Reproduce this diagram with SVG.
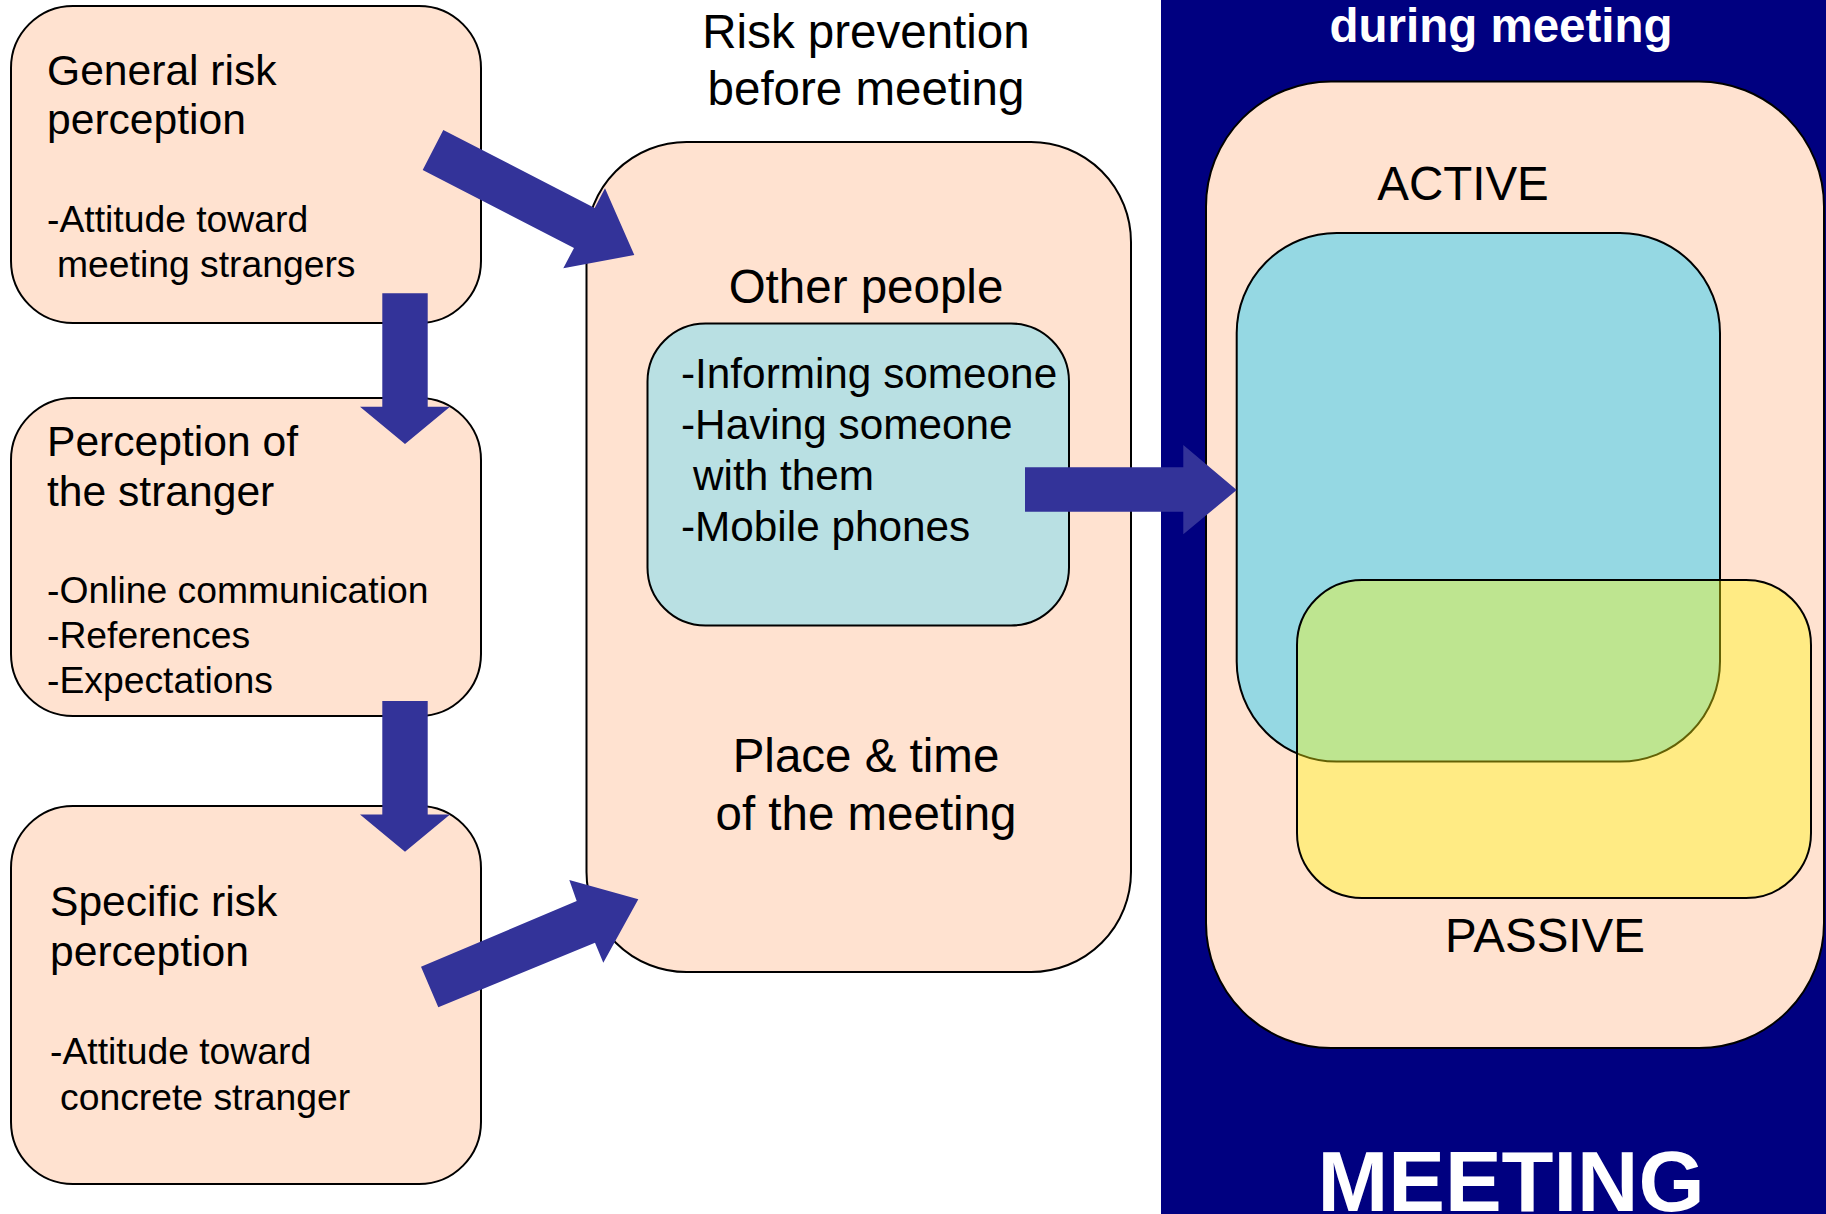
<svg xmlns="http://www.w3.org/2000/svg" width="1826" height="1214" viewBox="0 0 1826 1214">
<style>
.box{fill:#FFE2D0;stroke:#000;stroke-width:2}
.t{font-family:"Liberation Sans",Arial,sans-serif;fill:#000}
.h1{font-size:42.6px}
.b1{font-size:37.3px}
.h2{font-size:47.5px}
.b2{font-size:42.3px}
.w{font-family:"Liberation Sans",Arial,sans-serif;fill:#fff;font-weight:bold}
.arr{fill:#333399}
</style>
<rect x="1161" y="0" width="665" height="1214" fill="#000080"/>
<g id="box-general">
<rect class="box" x="11" y="6" width="470" height="317" rx="62"/>
<text class="t h1" x="47" y="85">General risk</text>
<text class="t h1" x="47" y="134">perception</text>
<text class="t b1" x="47" y="232">-Attitude toward</text>
<text class="t b1" x="57" y="277">meeting strangers</text>
</g>
<g id="box-perception">
<rect class="box" x="11" y="398" width="470" height="318" rx="62"/>
<text class="t h1" x="47" y="456">Perception of</text>
<text class="t h1" x="47" y="506">the stranger</text>
<text class="t b1" x="47" y="603">-Online communication</text>
<text class="t b1" x="47" y="648">-References</text>
<text class="t b1" x="47" y="693">-Expectations</text>
</g>
<g id="box-specific">
<rect class="box" x="11" y="806" width="470" height="378" rx="62"/>
<text class="t h1" x="50" y="916">Specific risk</text>
<text class="t h1" x="50" y="966">perception</text>
<text class="t b1" x="50" y="1064">-Attitude toward</text>
<text class="t b1" x="60" y="1110">concrete stranger</text>
</g>
<g id="prevention">
<text class="t h2" x="866" y="48" text-anchor="middle">Risk prevention</text>
<text class="t h2" x="866" y="105" text-anchor="middle">before meeting</text>
<rect class="box" x="586.5" y="142" width="544.5" height="830" rx="100"/>
<text class="t h2" x="866" y="303" text-anchor="middle">Other people</text>
<text class="t h2" x="866" y="772" text-anchor="middle">Place &amp; time</text>
<text class="t h2" x="866" y="830" text-anchor="middle">of the meeting</text>
</g>
<g id="other-people">
<rect x="647.5" y="323.5" width="421.5" height="302" rx="58" fill="#B9E0E3" stroke="#000" stroke-width="2"/>
<text class="t b2" x="681" y="388">-Informing someone</text>
<text class="t b2" x="681" y="439">-Having someone</text>
<text class="t b2" x="693" y="490">with them</text>
<text class="t b2" x="681" y="541">-Mobile phones</text>
</g>
<g id="meeting">
<text class="w" x="1501" y="42" font-size="47.5" text-anchor="middle">during meeting</text>
<rect class="box" x="1206" y="81.5" width="618" height="966.5" rx="125"/>
<text class="t h2" x="1463" y="200" text-anchor="middle">ACTIVE</text>
<rect x="1236.7" y="233" width="483.3" height="528.6" rx="100" fill="#95D8E3" stroke="#000" stroke-width="2"/>
<rect x="1297" y="580" width="514" height="318" rx="65" fill="#FFF90C" fill-opacity="0.39" stroke="#000" stroke-width="2"/>
<text class="t h2" x="1545" y="952" text-anchor="middle">PASSIVE</text>
<text class="w" x="1511" y="1211" font-size="85" text-anchor="middle">MEETING</text>
</g>
<g id="connectors">
<polygon class="arr" points="443.3,130 594.7,208 605,188.3 634.3,255 563.3,268.3 574,247.9 422.7,170"/>
<polygon class="arr" points="382.3,293.3 427.7,293.3 427.7,406.7 450,406.7 405,444 360,406.7 382.3,406.7"/>
<polygon class="arr" points="382.3,701 427.7,701 427.7,814.4 450,814.4 405,851.7 360,814.4 382.3,814.4"/>
<polygon class="arr" points="421,966.7 576.7,901 569.3,880 638.3,899.3 603.3,962.7 595,942.7 438.3,1007.3"/>
<polygon class="arr" points="1025,467.3 1183.3,467.3 1183.3,445 1236.7,490 1183.3,534.3 1183.3,511.7 1025,511.7"/>
</g>
</svg>
